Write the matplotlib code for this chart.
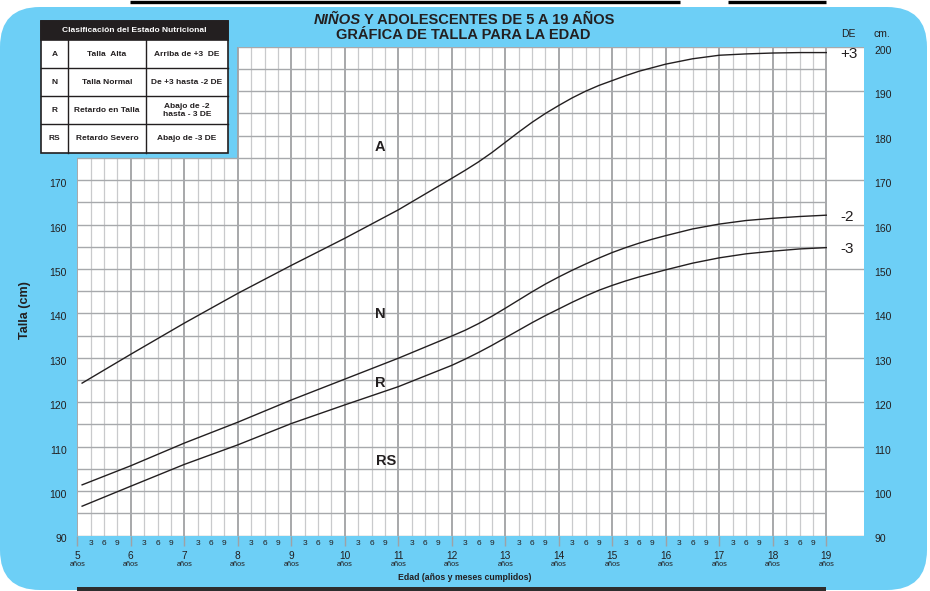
import numpy as np
import matplotlib
matplotlib.use("Agg")
import matplotlib.pyplot as plt
from matplotlib.patches import FancyBboxPatch, Rectangle, Polygon
from matplotlib.transforms import offset_copy, ScaledTranslation

plt.rcParams['font.family'] = ['Liberation Sans', 'DejaVu Sans']

# ---------------- data ----------------
ages = [5.09, 6, 7, 8, 9, 10, 11, 12, 12.25, 12.5, 12.75, 13, 13.25, 13.5, 13.75,
        14, 14.25, 14.5, 14.75, 15, 15.25, 15.5, 15.75, 16, 16.5, 17, 17.5, 18, 18.5, 19]
sd_plus3 = [124.3, 130.8, 137.8, 144.5, 150.8, 156.9, 163.3, 170.4, 172.2, 174.1, 176.2,
            178.5, 180.8, 183.0, 185.0, 186.8, 188.5, 190.0, 191.3, 192.4, 193.5, 194.5,
            195.3, 196.1, 197.3, 198.1, 198.4, 198.6, 198.7, 198.7]
sd_minus2 = [101.4, 105.7, 110.8, 115.5, 120.5, 125.2, 129.9, 134.9, 136.2, 137.7, 139.35,
             141.15, 143.0, 144.85, 146.6, 148.2, 149.7, 151.1, 152.45, 153.7, 154.8, 155.8,
             156.7, 157.5, 159.0, 160.1, 160.9, 161.4, 161.8, 162.1]
sd_minus3 = [96.6, 101.1, 106.0, 110.4, 115.2, 119.4, 123.5, 128.3, 129.7, 131.2, 132.8,
             134.5, 136.2, 137.9, 139.5, 141.0, 142.5, 143.9, 145.2, 146.3, 147.3, 148.2,
             149.0, 149.8, 151.3, 152.5, 153.4, 154.0, 154.5, 154.8]
curve_labels = ['+3', '-2', '-3']
zone_labels = ['A', 'N', 'R', 'RS']
zone_pos = [(10.66, 177.5), (10.66, 139.9), (10.66, 124.3), (10.77, 106.8)]
years = list(range(5, 20))
month_labels = ['3', '6', '9']
y_ticks = list(range(90, 201, 10))

table_header = 'Clasificación del Estado Nutricional'
table_rows = [
    ['A', 'Talla  Alta', 'Arriba de +3  DE'],
    ['N', 'Talla Normal', 'De +3 hasta -2 DE'],
    ['R', 'Retardo en Talla', 'Abajo de -2\nhasta - 3 DE'],
    ['RS', 'Retardo Severo', 'Abajo de -3 DE'],
]

BLUE = '#6dcff6'
DARK = '#231f20'
GRID_Y = '#a7a9ac'
GRID_MIN = '#c9cacc'
GRID_MAJ = '#a0a1a4'

W, H = 930, 591
fig = plt.figure(figsize=(W / 100, H / 100), dpi=100)
fig.patch.set_facecolor('white')

# background axes in pixel coordinates
bg = fig.add_axes([0, 0, 1, 1])
bg.set_xlim(0, W)
bg.set_ylim(H, 0)
bg.axis('off')
bg.add_patch(FancyBboxPatch((0, 7), 927, 583, boxstyle='round,pad=0,rounding_size=40',
                            fc=BLUE, ec='none'))
bg.plot([130, 680], [2, 2], color='black', lw=2.4, solid_capstyle='butt')
bg.plot([728, 826], [2, 2], color='black', lw=2.4, solid_capstyle='butt')
bg.add_patch(Rectangle((77, 587), 749, 6, fc='#2d2d2d', ec='none'))

# title
bg.text(361, 19.5, 'NIÑOS', ha='right', va='center', fontsize=10.7, fontweight='bold',
        fontstyle='italic', color=DARK)
bg.text(364, 19.5, 'Y ADOLESCENTES DE 5 A 19 AÑOS', ha='left', va='center', fontsize=10.5,
        fontweight='bold', color=DARK)
bg.text(463.5, 34.6, 'GRÁFICA DE TALLA PARA LA EDAD', ha='center', va='center', fontsize=10.5,
        fontweight='bold', color=DARK)
bg.text(848, 34.3, 'DE', ha='center', va='center', fontsize=7.5, color=DARK)
bg.text(881.5, 34.3, 'cm.', ha='center', va='center', fontsize=7.5, color=DARK)
bg.text(25, 310, 'Talla (cm)', ha='center', va='center', rotation=90, fontsize=9,
        fontweight='bold', color=DARK)
bg.text(465, 577.5, 'Edad (años y meses cumplidos)', ha='center', va='center', fontsize=6.3,
        fontweight='bold', color=DARK)

# ---------------- chart axes ----------------
px_per_year = 53.5
x_left, x_right = 77.3, 864.0
y_top, y_bot = 46.8, 535.5
XMAX = 5 + (x_right - x_left) / px_per_year
ax = fig.add_axes([x_left / W, (H - y_bot) / H, (x_right - x_left) / W, (y_bot - y_top) / H])
ax.set_xlim(5, XMAX)
ax.set_ylim(90, 200)
ax.patch.set_visible(False)
for s in ax.spines.values():
    s.set_visible(False)

ax.add_patch(Polygon([(5, 90), (XMAX, 90), (XMAX, 200), (8, 200), (8, 175), (5, 175)],
                     closed=True, fc='white', ec='none', zorder=0.5))

quarters = np.arange(5, 19.001, 0.25)
for q in quarters:
    top = 175 if q < 8 - 1e-9 else 200
    is_year = abs(q - round(q)) < 1e-9
    ax.vlines(q, 90, top, colors=GRID_MAJ if is_year else GRID_MIN,
              lw=1.3 if is_year else 0.9, zorder=1)
for hgt in range(90, 201, 5):
    x0 = 5 if hgt <= 175 else 8
    x1 = XMAX if hgt % 10 == 0 else 19
    ax.hlines(hgt, x0, x1, colors=GRID_Y, lw=1.0, zorder=1.1)

for vals, lab in zip([sd_plus3, sd_minus2, sd_minus3], curve_labels):
    ax.plot(ages, vals, color=DARK, lw=1.0, zorder=3, solid_joinstyle='round')
    ax.text(19.27, vals[-1] - 0.4, lab, ha='left', va='center', fontsize=11, color=DARK, zorder=4)

for lab, (xa, ya) in zip(zone_labels, zone_pos):
    ax.text(xa, ya, lab, ha='center', va='center', fontsize=10.5, fontweight='bold',
            color=DARK, zorder=4)

# x ticks
ax.set_xticks(years)
ax.set_xticklabels([str(y) for y in years])
minor_pos = [y + m / 12 for y in years[:-1] for m in (3, 6, 9)]
ax.set_xticks(minor_pos, minor=True)
ax.set_xticklabels(month_labels * (len(years) - 1), minor=True)
ax.tick_params(axis='x', which='major', direction='out', length=7.5, width=1.0,
               color=GRID_MAJ, pad=3.6, labelsize=7.3, labelcolor=DARK)
ax.tick_params(axis='x', which='minor', length=0, pad=3.2, labelsize=6.0, labelcolor=DARK)
tr = offset_copy(ax.get_xaxis_transform(), fig=fig, x=0, y=-29.5, units='dots')
for y in years:
    ax.text(y, 0, 'años', transform=tr, ha='center', va='center', fontsize=5.3, color=DARK)

# y ticks
ax.set_yticks(y_ticks)
ax.set_yticklabels([str(v) for v in y_ticks])
ax.tick_params(axis='y', length=0, left=False, right=False, labelleft=True, labelright=True,
               labelsize=7.5, labelcolor=DARK, pad=7.5)
shift = ScaledTranslation(0, -3 / 100, fig.dpi_scale_trans)
for t, v in zip(ax.yaxis.get_major_ticks(), y_ticks):
    t.label1.set_transform(t.label1.get_transform() + shift)
    t.label2.set_transform(t.label2.get_transform() + shift)
    if v > 170:
        t.label1.set_visible(False)

# ---------------- overlay: table ----------------
ov = fig.add_axes([0, 0, 1, 1])
ov.set_xlim(0, W)
ov.set_ylim(H, 0)
ov.axis('off')
ov.patch.set_visible(False)

cols = [41, 68.3, 145.7, 228]
rows = [20.7, 40, 68.3, 95.7, 124.3, 153.3]
ov.add_patch(Rectangle((cols[0], rows[0]), cols[-1] - cols[0], rows[-1] - rows[0],
                       fc='white', ec=DARK, lw=1.2, zorder=1))
ov.add_patch(Rectangle((cols[0], rows[0]), cols[-1] - cols[0], rows[1] - rows[0],
                       fc=DARK, ec=DARK, lw=1.2, zorder=2))
for r in rows[2:-1]:
    ov.plot([cols[0], cols[-1]], [r, r], color=DARK, lw=1.0, zorder=2)
for c in cols[1:-1]:
    ov.plot([c, c], [rows[1], rows[-1]], color=DARK, lw=1.0, zorder=2)
ov.text((cols[0] + cols[-1]) / 2, (rows[0] + rows[1]) / 2, table_header, ha='center',
        va='center', fontsize=6.0, fontweight='bold', color='white', zorder=3)
for i, row in enumerate(table_rows):
    yc = (rows[i + 1] + rows[i + 2]) / 2
    for j, txt in enumerate(row):
        xc = (cols[j] + cols[j + 1]) / 2
        ov.text(xc, yc, txt, ha='center', va='center', fontsize=6.0, fontweight='bold',
                color=DARK, zorder=3, linespacing=1.2)

fig.savefig('out.png', dpi=100, facecolor='white')
